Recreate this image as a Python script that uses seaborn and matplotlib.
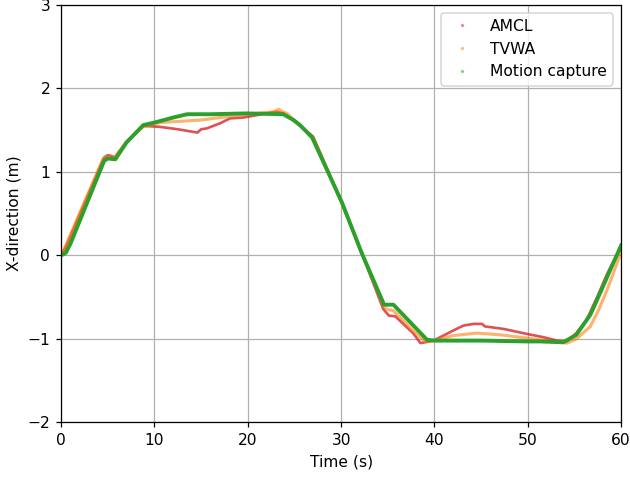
import matplotlib
matplotlib.use("Agg")
import matplotlib.pyplot as plt
from matplotlib.lines import Line2D
import seaborn as sns

# AMCL position estimate (s, m)
amcl_t = [0, 0.5, 4.6, 5.0, 5.4, 5.8, 7.0, 8.8, 10.5, 12.5, 14.6, 15.0, 15.6, 17.0,
          18.1, 19.5, 21.5, 23.0, 23.8, 24.5, 25.5, 27.0, 30.1, 32.2, 34.5, 35.1,
          35.8, 37.7, 38.5, 39.0, 39.9, 42.0, 43.1, 44.2, 45.1, 45.4, 47.4, 49.9,
          51.7, 53.1, 54.2, 55.2, 56.3, 57.5, 58.5, 59.5, 60.0]
amcl_x = [0, 0.10, 1.17, 1.20, 1.19, 1.17, 1.36, 1.55, 1.54, 1.51, 1.47, 1.51, 1.52, 1.58,
          1.64, 1.65, 1.69, 1.72, 1.70, 1.65, 1.56, 1.42, 0.62, 0.03, -0.64, -0.72,
          -0.73, -0.93, -1.05, -1.04, -1.02, -0.90, -0.84, -0.82, -0.82, -0.85, -0.88, -0.94,
          -0.98, -1.02, -1.03, -0.93, -0.77, -0.48, -0.22, 0.0, 0.10]

# TVWA position estimate (s, m)
tvwa_t = [0, 0.5, 4.5, 5.0, 5.6, 7.0, 8.8, 10.6, 14.9, 18.4, 21.0, 22.8, 23.3, 23.7,
          24.2, 25.5, 27.0, 30.1, 32.2, 34.6, 35.0, 35.6, 37.7, 39.0, 39.9, 42.0,
          44.5, 47.0, 49.9, 52.7, 54.2, 55.2, 56.7, 57.6, 58.5, 59.7, 60.0]
tvwa_x = [0, 0.12, 1.16, 1.18, 1.16, 1.36, 1.54, 1.59, 1.62, 1.67, 1.70, 1.72, 1.75, 1.72,
          1.70, 1.56, 1.42, 0.62, 0.03, -0.62, -0.65, -0.66, -0.90, -1.03, -1.02, -0.96,
          -0.93, -0.95, -0.99, -1.03, -1.05, -1.00, -0.85, -0.65, -0.41, -0.05, 0.04]

# Motion capture ground truth (s, m)
mocap_t = [0, 0.5, 1.0, 4.6, 5.0, 5.8, 7.0, 8.8, 10.0, 12.0, 13.5, 16.0, 19.9, 23.8,
           24.9, 25.6, 26.9, 30.1, 32.2, 34.6, 35.6, 39.2, 40.0, 45.1, 49.9, 51.3,
           53.8, 55.2, 56.7, 57.9, 59.0, 59.8, 60.0]
mocap_x = [0, 0.03, 0.14, 1.13, 1.16, 1.15, 1.35, 1.56, 1.59, 1.65, 1.69, 1.69, 1.70, 1.69,
           1.62, 1.56, 1.41, 0.63, 0.03, -0.59, -0.59, -1.01, -1.02, -1.02, -1.03, -1.03,
           -1.04, -0.95, -0.71, -0.41, -0.13, 0.07, 0.12]

DPI = 112
fig, ax = plt.subplots(figsize=(630 / DPI, 479 / DPI), dpi=DPI)

sns.lineplot(x=amcl_t, y=amcl_x, ax=ax, color="#d62728", alpha=0.8,
             linewidth=1.7, estimator=None, sort=False)
sns.lineplot(x=tvwa_t, y=tvwa_x, ax=ax, color="#ff7f0e", alpha=0.6,
             linewidth=2.0, estimator=None, sort=False)
sns.lineplot(x=mocap_t, y=mocap_x, ax=ax, color="#2ca02c",
             linewidth=2.5, estimator=None, sort=False)

ax.set_xlim(0, 60)
ax.set_ylim(-2, 3)
ax.set_xticks([0, 10, 20, 30, 40, 50, 60])
ax.set_yticks([-2, -1, 0, 1, 2, 3])
ax.grid(True)
ax.set_xlabel("Time (s)")
ax.set_ylabel("X-direction (m)")

handles = [
    Line2D([], [], linestyle="none", marker=".", markersize=2.5, color="#d62728", alpha=0.4),
    Line2D([], [], linestyle="none", marker=".", markersize=2.5, color="#ff7f0e", alpha=0.4),
    Line2D([], [], linestyle="none", marker=".", markersize=2.5, color="#2ca02c", alpha=0.4),
]
ax.legend(handles, ["AMCL", "TVWA", "Motion capture"], loc="upper right")

fig.subplots_adjust(left=0.097, right=0.986, top=0.99, bottom=0.118)
fig.savefig("out.png", dpi=DPI)
